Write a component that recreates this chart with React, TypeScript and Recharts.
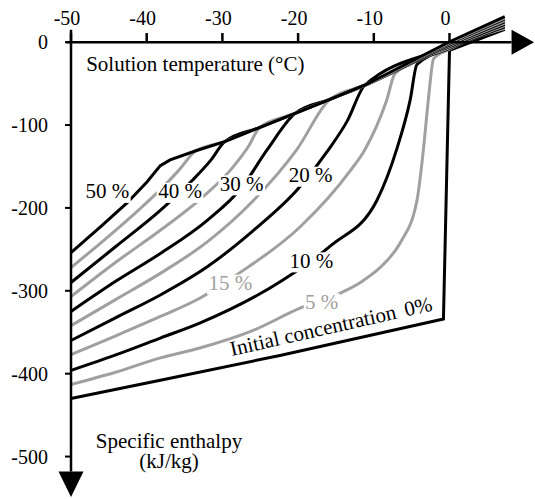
import { LineChart, Line, XAxis, YAxis, ReferenceLine, ReferenceDot } from "recharts"

const FONT = "'Liberation Serif', 'Times New Roman', serif"

const xTicks = [-50, -40, -30, -20, -10, 0]
const yTicks = [0, -100, -200, -300, -400, -500]

const concentrations = [0, 5, 10, 15, 20, 25, 30, 35, 40, 45, 50]

// each concentration curve, from -50 °C up to where it meets the freezing line
const temp0 = [-50, -38.2, -22.4, -0.8, 0]
const enth0 = [-430, -408, -378, -334, -10]
const temp5 = [-50, -44, -38.2, -33, -26, -19.75, -14.5, -11.6, -8.5, -6.5, -4.3, -3.45, -2.8, -2.1]
const enth5 = [-413, -398, -381, -369, -348, -321, -303, -289, -266, -242, -191, -130, -70, -20]
const temp10 = [-50, -44, -38.2, -33, -22, -15.6, -9.6, -7, -5.2, -4.3]
const enth10 = [-396, -377, -357, -339, -287, -245, -191, -130, -70, -27]
const temp15 = [-50, -44, -38.2, -33, -28, -19.75, -13.1, -11.2, -8.3, -7.2]
const enth15 = [-377, -354, -331, -309, -280, -223, -155, -130, -70, -38]
const temp20 = [-50, -44, -38.2, -32, -26, -20, -16, -13.5, -11.2]
const enth20 = [-360, -332, -305, -271, -228, -177, -130, -95, -52]
const temp25 = [-50, -44, -38.2, -32, -26, -20.2, -15.8]
const enth25 = [-342, -310, -279, -241, -192, -130, -69]
const temp30 = [-50, -44, -38.2, -32, -27.5, -24.1, -20.4]
const enth30 = [-325, -288, -255, -215, -176, -130, -86]
const temp35 = [-50, -44, -38.2, -33, -29, -26.5, -25.1]
const enth35 = [-307, -265, -227, -190, -155, -125, -103]
const temp40 = [-50, -44, -38.2, -34, -31.5, -29.7]
const enth40 = [-290, -246, -203, -167, -142, -120]
const temp45 = [-50, -45, -41, -38.2, -35.8, -33.5]
const enth45 = [-272, -234, -202, -178, -155, -131]
const temp50 = [-50, -46, -42.6, -40, -38.2, -36.9]
const enth50 = [-254, -222, -194, -169, -149, -142]

// freezing line shared by all curves
const envTemp = [-33.5, -29.7, -25.1, -20.4, -15.8, -11.2]
const envEnth = [-131, -120, -103, -86, -69, -52]

// liquid part, fanning out past 0 °C
const tailAt0 = [-10, -8.5, -7.5, -6.5, -5.5, -4.5, -3.5, -2.5, -1.5, -0.5, 0.5]
const tailAt7 = [15.3, 16.8, 18.4, 19.9, 21.5, 23, 24.6, 26.1, 27.7, 29.2, 30.8]

const curveTemps = [temp0, temp5, temp10, temp15, temp20, temp25, temp30, temp35, temp40, temp45, temp50]
const curveEnths = [enth0, enth5, enth10, enth15, enth20, enth25, enth30, enth35, enth40, enth45, enth50]

const labelText = ["50 %", "40 %", "30 %", "20 %", "10 %", "15 %", "5 %"]
const labelTemp = [-45.2, -35.6, -27.45, -18.35, -18.24, -28.94, -16.88]
const labelEnth = [-188.5, -188.5, -179.4, -169, -272.3, -299.2, -321.7]
const labelGray = [false, false, false, false, false, true, true]

const BLACK = "#000"
const GRAY = "#a0a0a0"

function buildSeries(i: number) {
  const xs = curveTemps[i]
  const ys = curveEnths[i]
  const pts = xs.map((x, k) => ({ x, y: ys[k] }))
  const last = xs[xs.length - 1]
  envTemp.forEach((x, k) => {
    if (x > last + 0.5) pts.push({ x, y: envEnth[k] })
  })
  if (last < 0) pts.push({ x: 0, y: tailAt0[i] })
  pts.push({ x: 7.3, y: tailAt7[i] })
  return pts
}

const textStyle = { fontFamily: FONT, fontSize: 21 }

// curve label on a white box that cuts the lines under it
function BoxLabel({ cx, cy, text, color }: any) {
  const w = text.length * 0.52 * 21
  return (
    <g>
      <rect x={cx - w / 2 - 1.5} y={cy - 15.5} width={w + 3} height={20} fill="#fff" />
      <text x={cx} y={cy} textAnchor="middle" fill={color} style={textStyle}>
        {text}
      </text>
    </g>
  )
}

function PlainText({ cx, cy, text, anchor, rotate }: any) {
  return (
    <text
      x={cx}
      y={cy}
      textAnchor={anchor}
      transform={rotate ? `rotate(${rotate} ${cx} ${cy})` : undefined}
      fill="#000"
      style={textStyle}
    >
      {text}
    </text>
  )
}

export default function App() {
  return (
    <div style={{ position: "absolute", left: 0, top: 0, background: "#fff", fontFamily: FONT }}>
      <LineChart width={535} height={499} margin={{ top: 9, right: 9.8, bottom: 1, left: 0 }}>
        <XAxis type="number" dataKey="x" domain={[-50, 10]} hide />
        <YAxis
          type="number"
          domain={[-550, 40]}
          ticks={yTicks}
          width={71}
          axisLine={false}
          tickSize={6}
          tickMargin={17}
          tickLine={{ stroke: "#000", strokeWidth: 2 }}
          tick={{ fill: "#000", fontSize: 20, fontFamily: FONT }}
        />

        {concentrations.map((c, i) => (
          <Line
            key={c}
            data={buildSeries(i)}
            dataKey="y"
            type={i === 0 || i === 10 ? "linear" : "monotone"}
            stroke={i % 2 === 0 ? BLACK : GRAY}
            strokeWidth={3}
            dot={false}
            activeDot={false}
            isAnimationActive={false}
          />
        ))}

        {/* axes */}
        <ReferenceLine segment={[{ x: -50.6, y: 0 }, { x: 8.2, y: 0 }]} stroke="#000" strokeWidth={2.5} ifOverflow="visible" />
        <ReferenceLine segment={[{ x: -50, y: 15 }, { x: -50, y: -518 }]} stroke="#000" strokeWidth={2.5} ifOverflow="visible" />
        {xTicks.map((t) => (
          <ReferenceLine key={t} segment={[{ x: t, y: 0 }, { x: t, y: 11 }]} stroke="#000" strokeWidth={2.5} ifOverflow="visible" />
        ))}
        <ReferenceDot
          x={8.2}
          y={0}
          ifOverflow="visible"
          shape={(p: any) => (
            <polygon points={`${p.cx},${p.cy - 12.5} ${p.cx},${p.cy + 12.5} ${p.cx + 22.5},${p.cy}`} fill="#000" />
          )}
        />
        <ReferenceDot
          x={-50}
          y={-518}
          ifOverflow="visible"
          shape={(p: any) => (
            <polygon points={`${p.cx - 12.5},${p.cy} ${p.cx + 12.5},${p.cy} ${p.cx},${p.cy + 25.5}`} fill="#000" />
          )}
        />
        {xTicks.map((t) => (
          <ReferenceDot
            key={`xl${t}`}
            x={t}
            y={0}
            ifOverflow="visible"
            shape={(p: any) => (
              <text x={p.cx - 4} y={p.cy - 17} textAnchor="middle" fill="#000" style={{ fontFamily: FONT, fontSize: 20 }}>
                {t}
              </text>
            )}
          />
        ))}

        {/* titles */}
        <ReferenceDot x={-48} y={-35} ifOverflow="visible" shape={(p: any) => <PlainText {...p} text="Solution temperature (°C)" anchor="start" />} />
        <ReferenceDot x={-37.05} y={-489.4} ifOverflow="visible" shape={(p: any) => <PlainText {...p} text="Specific enthalpy" anchor="middle" />} />
        <ReferenceDot x={-37.05} y={-514} ifOverflow="visible" shape={(p: any) => <PlainText {...p} text="(kJ/kg)" anchor="middle" />} />

        {/* curve labels */}
        {labelText.map((s, k) => (
          <ReferenceDot
            key={s}
            x={labelTemp[k]}
            y={labelEnth[k]}
            ifOverflow="visible"
            shape={(p: any) => <BoxLabel {...p} text={s} color={labelGray[k] ? GRAY : BLACK} />}
          />
        ))}
        <ReferenceDot
          x={-28.77}
          y={-378.8}
          ifOverflow="visible"
          shape={(p: any) => (
            <PlainText
              {...p}
              anchor="start"
              rotate={-12.8}
              text={
                <>
                  <tspan>Initial concentration</tspan>
                  <tspan dx={9}>0%</tspan>
                </>
              }
            />
          )}
        />
      </LineChart>
    </div>
  )
}
